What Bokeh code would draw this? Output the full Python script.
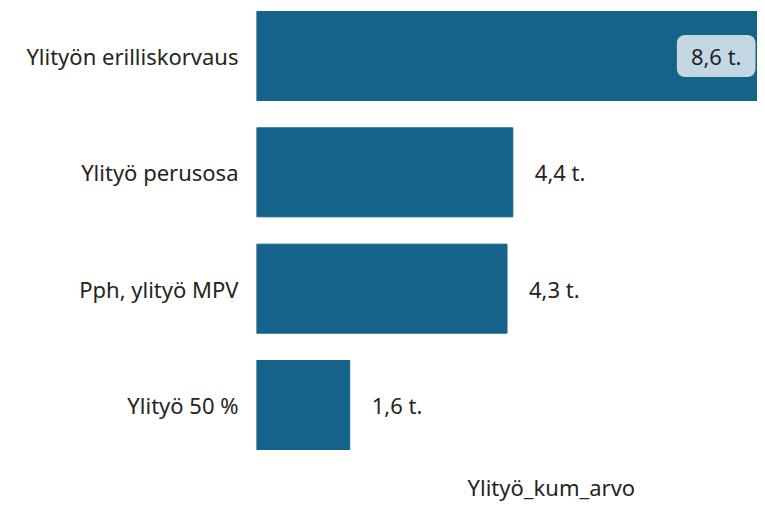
from bokeh.plotting import figure
from bokeh.models import Range1d, FixedTicker, Title, ColumnDataSource
from bokeh.core.properties import value
from bokeh.embed import file_html
from bokeh.resources import INLINE

categories = ["Ylityön erilliskorvaus", "Ylityö perusosa", "Pph, ylityö MPV", "Ylityö 50 %"]
values = [8.6, 4.4, 4.3, 1.6]
axis_title = "Ylityö_kum_arvo"

BAR = "#15628A"
TXT = "#252423"
FONT = "Noto Sans"
FS = "22px"

pos = list(range(len(categories)))
vmax = max(values)
labels = [f"{v:.1f}".replace(".", ",") + " t." for v in values]
inside = [v >= 0.8 * vmax for v in values]

p = figure(width=757, height=515, output_backend="svg", toolbar_location=None,
           x_range=Range1d(0, vmax), y_range=Range1d(3.434, -0.477),
           min_border_left=256, min_border_right=0, min_border_top=0, min_border_bottom=45)
p.outline_line_color = None
p.grid.visible = False
p.xaxis.visible = False

p.hbar(y=pos, right=values, left=0, height=0.765, color=BAR)

src_out = ColumnDataSource(dict(x=[v for v, i in zip(values, inside) if not i],
                                y=[y for y, i in zip(pos, inside) if not i],
                                t=[t for t, i in zip(labels, inside) if not i]))
src_in = ColumnDataSource(dict(x=[v for v, i in zip(values, inside) if i],
                               y=[y for y, i in zip(pos, inside) if i],
                               t=[t for t, i in zip(labels, inside) if i]))
p.text(x="x", y="y", text="t", source=src_out, x_offset=22, text_align="left",
       text_baseline="middle", text_font=value(FONT), text_font_size=FS, text_color=TXT)
p.text(x="x", y="y", text="t", source=src_in, x_offset=-2, text_align="right",
       text_baseline="middle", text_font=value(FONT), text_font_size=FS, text_color=TXT,
       background_fill_color="#C4D8E3", padding=[14, 14, 6, 6], border_radius=8)

p.yaxis.ticker = FixedTicker(ticks=pos)
p.yaxis.major_label_overrides = {i: c for i, c in zip(pos, categories)}
p.yaxis.axis_line_color = None
p.yaxis.major_tick_line_color = None
p.yaxis.minor_tick_line_color = None
p.yaxis.major_tick_out = 0
p.yaxis.major_label_standoff = 18
p.yaxis.major_label_text_font = FONT
p.yaxis.major_label_text_font_size = FS
p.yaxis.major_label_text_color = TXT

t = Title(text=axis_title, align="left", offset=211, text_font=FONT, text_font_size=FS,
          text_font_style="normal", text_color=TXT, standoff=28)
p.add_layout(t, "below")

open("out.html", "w").write(file_html(p, INLINE))
